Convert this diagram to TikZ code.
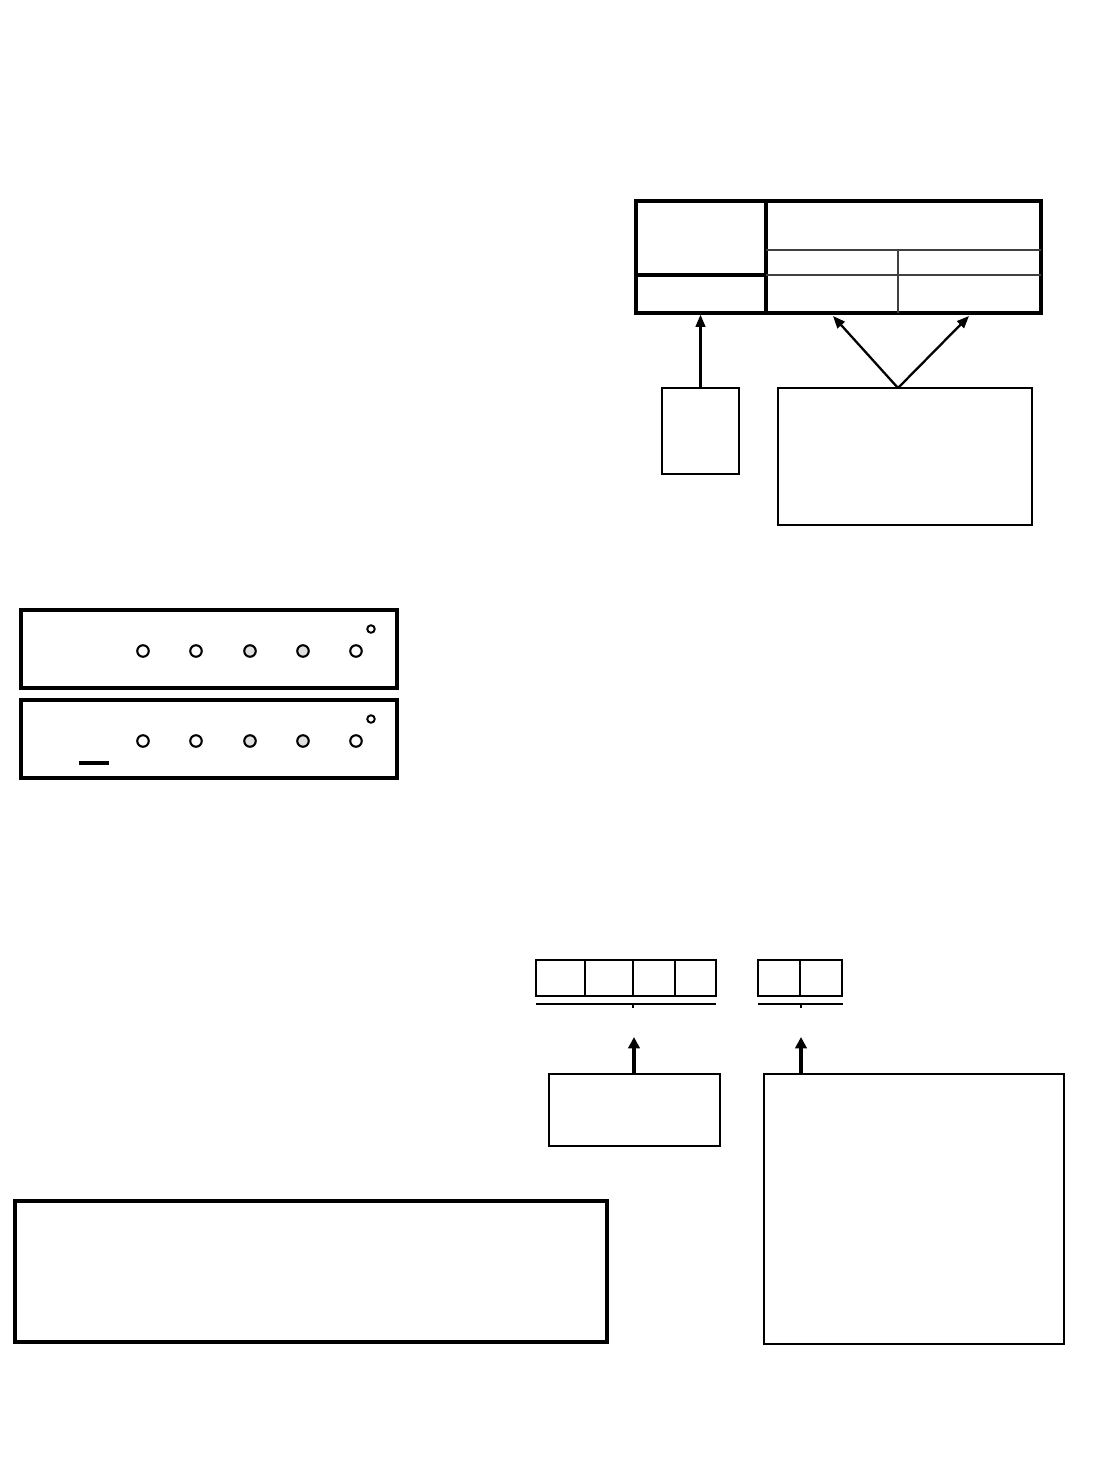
\documentclass[tikz,border=0pt]{standalone}
\usepackage{tikz}
\usetikzlibrary{arrows.meta, positioning, calc}
\definecolor{ledfill}{HTML}{E0E0E0}
\definecolor{gridline}{HTML}{404040}

\begin{document}
\begin{tikzpicture}[x=0.02cm, y=-0.02cm,
    frame/.style={draw, rectangle, inner sep=0pt, line width=1.9pt},
    slim/.style={draw, rectangle, inner sep=0pt, line width=0.9pt},
    cell/.style={draw, rectangle, inner sep=0pt, line width=1.5pt, minimum height=0.72cm},
    led/.style={draw, circle, inner sep=0pt, line width=1.2pt, minimum size=0.23cm},
    pin/.style={draw, circle, inner sep=0pt, line width=1.1pt, minimum size=0.15cm},
    arr/.style={line width=1.3pt, -{Triangle[length=7pt, width=5.5pt]}},
    fat/.style={line width=2.6pt, -{Triangle[length=6.5pt, width=6.5pt]}}]
    \useasboundingbox (0,0) rectangle (1094,1474);
    \node[frame, minimum width=8.1cm, minimum height=2.24cm] (tbl) at (838.5,257) {};
    \draw[line width=1.9pt] (766,201) -- (766,313);
    \draw[line width=1.9pt] (636,275) -- (766,275);
    \draw[line width=1.2pt, gridline] (766,250) -- (1041,250);
    \draw[line width=1.2pt, gridline] (766,275) -- (1041,275);
    \draw[line width=1.2pt, gridline] (898,250) -- (898,313);
    \node[frame, line width=1.6pt, minimum width=1.54cm, minimum height=1.72cm] (key) at (700.5,431) {};
    \node[frame, line width=1.6pt, minimum width=5.08cm, minimum height=2.74cm] (note) at (905,456.5) {};
    \coordinate (fork) at (898,388);
    \coordinate (colA) at (833,316);
    \coordinate (colB) at (969,316);
    \draw[arr] (key.north) -- (key.north |- tbl.south);
    \draw[arr] (fork) -- (colA);
    \draw[arr] (fork) -- (colB);
    \node[frame, minimum width=7.52cm, minimum height=1.56cm] (panA) at (209,649) {};
    \node[frame, minimum width=7.52cm, minimum height=1.56cm] (panB) at (209,739) {};
    \foreach \x/\f [count=\i] in {143/white, 196/white, 250/ledfill, 303/ledfill, 356/white} {
        \node[led, fill=\f] (ledA\i) at (\x,651) {};
        \node[led, fill=\f] (ledB\i) at (\x,741) {};
    }
    \node[pin] (pinA) at (371,629) {};
    \node[pin] (pinB) at (371,719) {};
    \draw[line width=2.2pt] (79,763) -- (109,763);
    \node[cell, minimum width=0.98cm] (c1) at (560.5,978) {};
    \node[cell, minimum width=0.96cm] (c2) at (609,978) {};
    \node[cell, minimum width=0.84cm] (c3) at (654,978) {};
    \node[cell, minimum width=0.82cm] (c4) at (695.5,978) {};
    \node[cell, minimum width=0.84cm] (d1) at (779,978) {};
    \node[cell, minimum width=0.84cm] (d2) at (821,978) {};
    \draw[line width=1.2pt] (536,1004) -- (716,1004);
    \draw[line width=0.6pt] (633,1004) -- (633,1008);
    \draw[line width=1.2pt] (758,1004) -- (843,1004);
    \draw[line width=0.9pt] (801,1004) -- (801,1008);
    \node[slim, minimum width=3.42cm, minimum height=1.44cm] (boxA) at (634.5,1110) {};
    \node[slim, minimum width=6cm, minimum height=5.4cm] (boxB) at (914,1209) {};
    \coordinate (ptA) at (634,1037);
    \coordinate (ptB) at (801,1037);
    \draw[fat] (ptA |- boxA.north) -- (ptA);
    \draw[fat] (ptB |- boxB.north) -- (ptB);
    \node[frame, minimum width=11.84cm, minimum height=2.82cm] (foot) at (311,1271.5) {};
\end{tikzpicture}
\end{document}
